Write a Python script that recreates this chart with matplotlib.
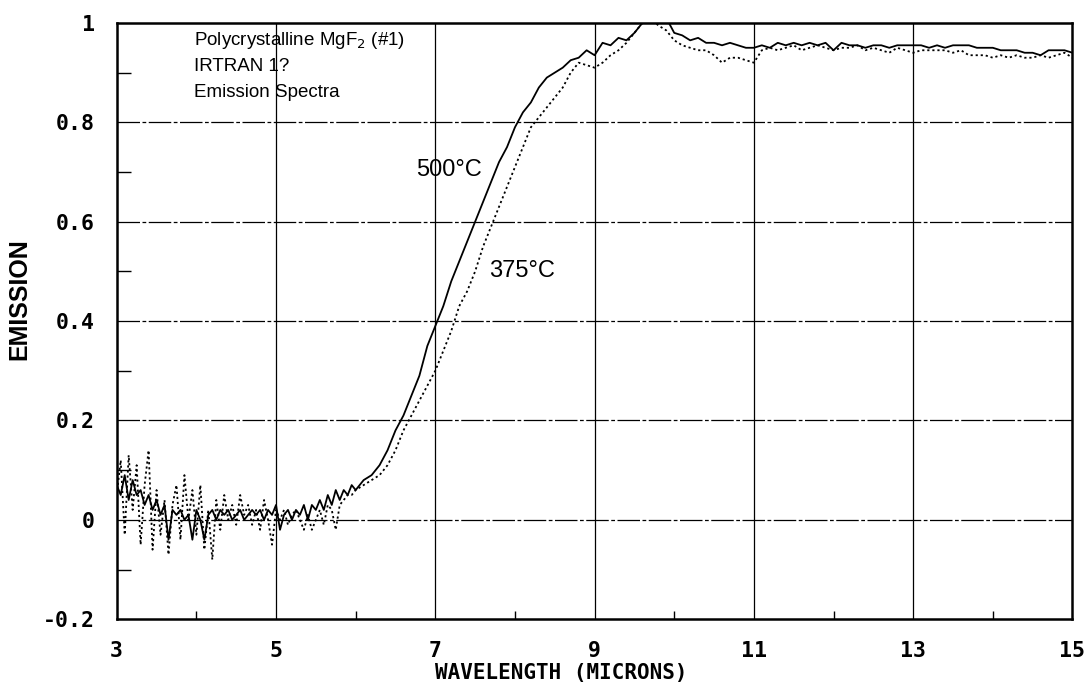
import matplotlib
matplotlib.use("Agg")
import matplotlib.pyplot as plt
from matplotlib.ticker import FixedLocator, FuncFormatter

plt.rcParams["axes.unicode_minus"] = False

# sampled wavelength (microns): fine steps through the noisy region, then 0.1
wavelength = [
    3.00, 3.05, 3.10, 3.15, 3.20, 3.25, 3.30, 3.35, 3.40, 3.45,
    3.50, 3.55, 3.60, 3.65, 3.70, 3.75, 3.80, 3.85, 3.90, 3.95,
    4.00, 4.05, 4.10, 4.15, 4.20, 4.25, 4.30, 4.35, 4.40, 4.45,
    4.50, 4.55, 4.60, 4.65, 4.70, 4.75, 4.80, 4.85, 4.90, 4.95,
    5.00, 5.05, 5.10, 5.15, 5.20, 5.25, 5.30, 5.35, 5.40, 5.45,
    5.50, 5.55, 5.60, 5.65, 5.70, 5.75, 5.80, 5.85, 5.90, 5.95,
    6.00,
    6.1, 6.2, 6.3, 6.4, 6.5, 6.6, 6.7, 6.8, 6.9, 7.0,
    7.1, 7.2, 7.3, 7.4, 7.5, 7.6, 7.7, 7.8, 7.9, 8.0,
    8.1, 8.2, 8.3, 8.4, 8.5, 8.6, 8.7, 8.8, 8.9, 9.0,
    9.1, 9.2, 9.3, 9.4, 9.5, 9.6, 9.7, 9.8, 9.9, 10.0,
    10.1, 10.2, 10.3, 10.4, 10.5, 10.6, 10.7, 10.8, 10.9, 11.0,
    11.1, 11.2, 11.3, 11.4, 11.5, 11.6, 11.7, 11.8, 11.9, 12.0,
    12.1, 12.2, 12.3, 12.4, 12.5, 12.6, 12.7, 12.8, 12.9, 13.0,
    13.1, 13.2, 13.3, 13.4, 13.5, 13.6, 13.7, 13.8, 13.9, 14.0,
    14.1, 14.2, 14.3, 14.4, 14.5, 14.6, 14.7, 14.8, 14.9, 15.0,
]

emission_500 = [
    0.07, 0.05, 0.09, 0.04, 0.08, 0.05, 0.06, 0.03, 0.05, 0.02,
    0.04, 0.01, 0.03, -0.04, 0.02, 0.01, 0.02, 0.00, 0.01, -0.04,
    0.02, 0.00, -0.04, 0.01, 0.02, 0.00, 0.02, 0.01, 0.02, 0.00,
    0.01, 0.02, 0.00, 0.01, 0.02, 0.01, 0.02, 0.00, 0.02, 0.01,
    0.03, -0.02, 0.01, 0.02, 0.00, 0.02, 0.01, 0.03, 0.00, 0.03,
    0.02, 0.04, 0.02, 0.05, 0.03, 0.06, 0.04, 0.06, 0.05, 0.07,
    0.06,
    0.08, 0.09, 0.11, 0.14, 0.18, 0.21, 0.25, 0.29, 0.35, 0.39,
    0.43, 0.48, 0.52, 0.56, 0.60, 0.64, 0.68, 0.72, 0.75, 0.79,
    0.82, 0.84, 0.87, 0.89, 0.90, 0.91, 0.925, 0.93, 0.945, 0.935,
    0.96, 0.955, 0.97, 0.965, 0.98, 1.00, 1.01, 1.01, 1.01, 0.98,
    0.975, 0.965, 0.97, 0.96, 0.96, 0.955, 0.96, 0.955, 0.95, 0.95,
    0.955, 0.95, 0.96, 0.955, 0.96, 0.955, 0.96, 0.955, 0.96, 0.945,
    0.96, 0.955, 0.955, 0.95, 0.955, 0.955, 0.95, 0.955, 0.955, 0.955,
    0.955, 0.95, 0.955, 0.95, 0.955, 0.955, 0.955, 0.95, 0.95, 0.95,
    0.945, 0.945, 0.945, 0.94, 0.94, 0.935, 0.945, 0.945, 0.945, 0.94,
]

emission_375 = [
    0.05, 0.12, -0.03, 0.13, 0.02, 0.11, -0.05, 0.07, 0.14, -0.06,
    0.06, -0.03, 0.04, -0.07, 0.03, 0.07, -0.04, 0.09, 0.00, 0.06,
    -0.03, 0.07, -0.06, 0.02, -0.08, 0.04, -0.02, 0.05, 0.00, 0.03,
    -0.01, 0.05, 0.01, 0.03, -0.01, 0.02, -0.02, 0.04, 0.00, -0.05,
    0.02, 0.00, 0.02, -0.01, 0.01, 0.02, 0.00, -0.02, 0.01, -0.02,
    0.00, 0.02, -0.01, 0.03, 0.02, -0.02, 0.03, 0.04, 0.05, 0.05,
    0.06,
    0.07, 0.08, 0.09, 0.11, 0.14, 0.18, 0.21, 0.24, 0.27, 0.30,
    0.34, 0.38, 0.43, 0.46, 0.50, 0.55, 0.59, 0.63, 0.67, 0.71,
    0.75, 0.79, 0.81, 0.83, 0.85, 0.87, 0.90, 0.92, 0.915, 0.91,
    0.92, 0.935, 0.945, 0.96, 0.98, 1.00, 1.01, 0.995, 0.985, 0.965,
    0.955, 0.95, 0.945, 0.945, 0.935, 0.92, 0.93, 0.93, 0.925, 0.92,
    0.945, 0.95, 0.945, 0.95, 0.955, 0.945, 0.95, 0.955, 0.95, 0.945,
    0.95, 0.95, 0.955, 0.945, 0.95, 0.945, 0.94, 0.95, 0.945, 0.94,
    0.945, 0.945, 0.945, 0.945, 0.94, 0.945, 0.935, 0.935, 0.935, 0.93,
    0.935, 0.93, 0.935, 0.93, 0.93, 0.935, 0.93, 0.935, 0.94, 0.93,
]

x_major = [3, 5, 7, 9, 11, 13, 15]
x_minor = [4, 6, 8, 10, 12, 14]
y_major = [-0.2, 0, 0.2, 0.4, 0.6, 0.8, 1.0]
y_minor = [-0.1, 0.1, 0.3, 0.5, 0.7, 0.9]

MONO = "DejaVu Sans Mono"
SANS = "Liberation Sans"

fig = plt.figure(figsize=(10.91, 6.95), dpi=100)
ax = fig.add_axes([0.107, 0.109, 0.876, 0.858])

# grid: solid verticals, long dash-dot horizontals
for xv in x_major[1:-1]:
    ax.axvline(xv, color="black", lw=0.9, zorder=1)
for yv in y_major[1:-1]:
    ax.axhline(yv, color="black", lw=0.9, ls=(0, (18, 2, 3, 2)), zorder=1)

ax.plot(wavelength, emission_500, color="black", lw=1.3, zorder=3)
ax.plot(wavelength, emission_375, color="black", lw=1.3,
        ls=(0, (1.2, 1.6)), zorder=3)

ax.set_xlim(3, 15)
ax.set_ylim(-0.2, 1.0)

ax.xaxis.set_major_locator(FixedLocator(x_major))
ax.xaxis.set_minor_locator(FixedLocator(x_minor))
ax.yaxis.set_major_locator(FixedLocator(y_major))
ax.yaxis.set_minor_locator(FixedLocator(y_minor))
ax.yaxis.set_major_formatter(FuncFormatter(lambda v, _: f"{v:g}"))

ax.tick_params(axis="x", which="major", length=0, pad=16)
ax.tick_params(axis="y", which="major", length=0, pad=16)
ax.tick_params(axis="x", which="minor", direction="in", length=6, width=1)
ax.tick_params(axis="y", which="minor", direction="in", length=10, width=1)
for lbl in ax.get_xticklabels() + ax.get_yticklabels():
    lbl.set_fontfamily(MONO)
    lbl.set_fontweight("bold")
    lbl.set_fontsize(15.5)

for sp in ax.spines.values():
    sp.set_linewidth(1.8)

ax.set_xlabel("WAVELENGTH (MICRONS)", fontfamily=MONO, fontweight="bold",
              fontsize=15)
ax.xaxis.set_label_coords(0.465, -0.074)
ax.set_ylabel("EMISSION", fontfamily=SANS, fontweight="bold", fontsize=18)
ax.yaxis.set_label_coords(-0.089, 0.537)

# sample description and curve labels
ax.text(3.97, 0.965, "Polycrystalline MgF$_2$ (#1)", fontfamily=SANS,
        fontsize=13.5, va="center", ha="left")
ax.text(3.97, 0.913, "IRTRAN 1?", fontfamily=SANS, fontsize=13.5,
        va="center", ha="left")
ax.text(3.97, 0.860, "Emission Spectra", fontfamily=SANS, fontsize=13.5,
        va="center", ha="left")
ax.text(7.17, 0.705, "500°C", fontfamily=SANS, fontsize=17,
        va="center", ha="center")
ax.text(8.09, 0.50, "375°C", fontfamily=SANS, fontsize=17,
        va="center", ha="center")

fig.savefig("out.png", dpi=100, facecolor="white")
